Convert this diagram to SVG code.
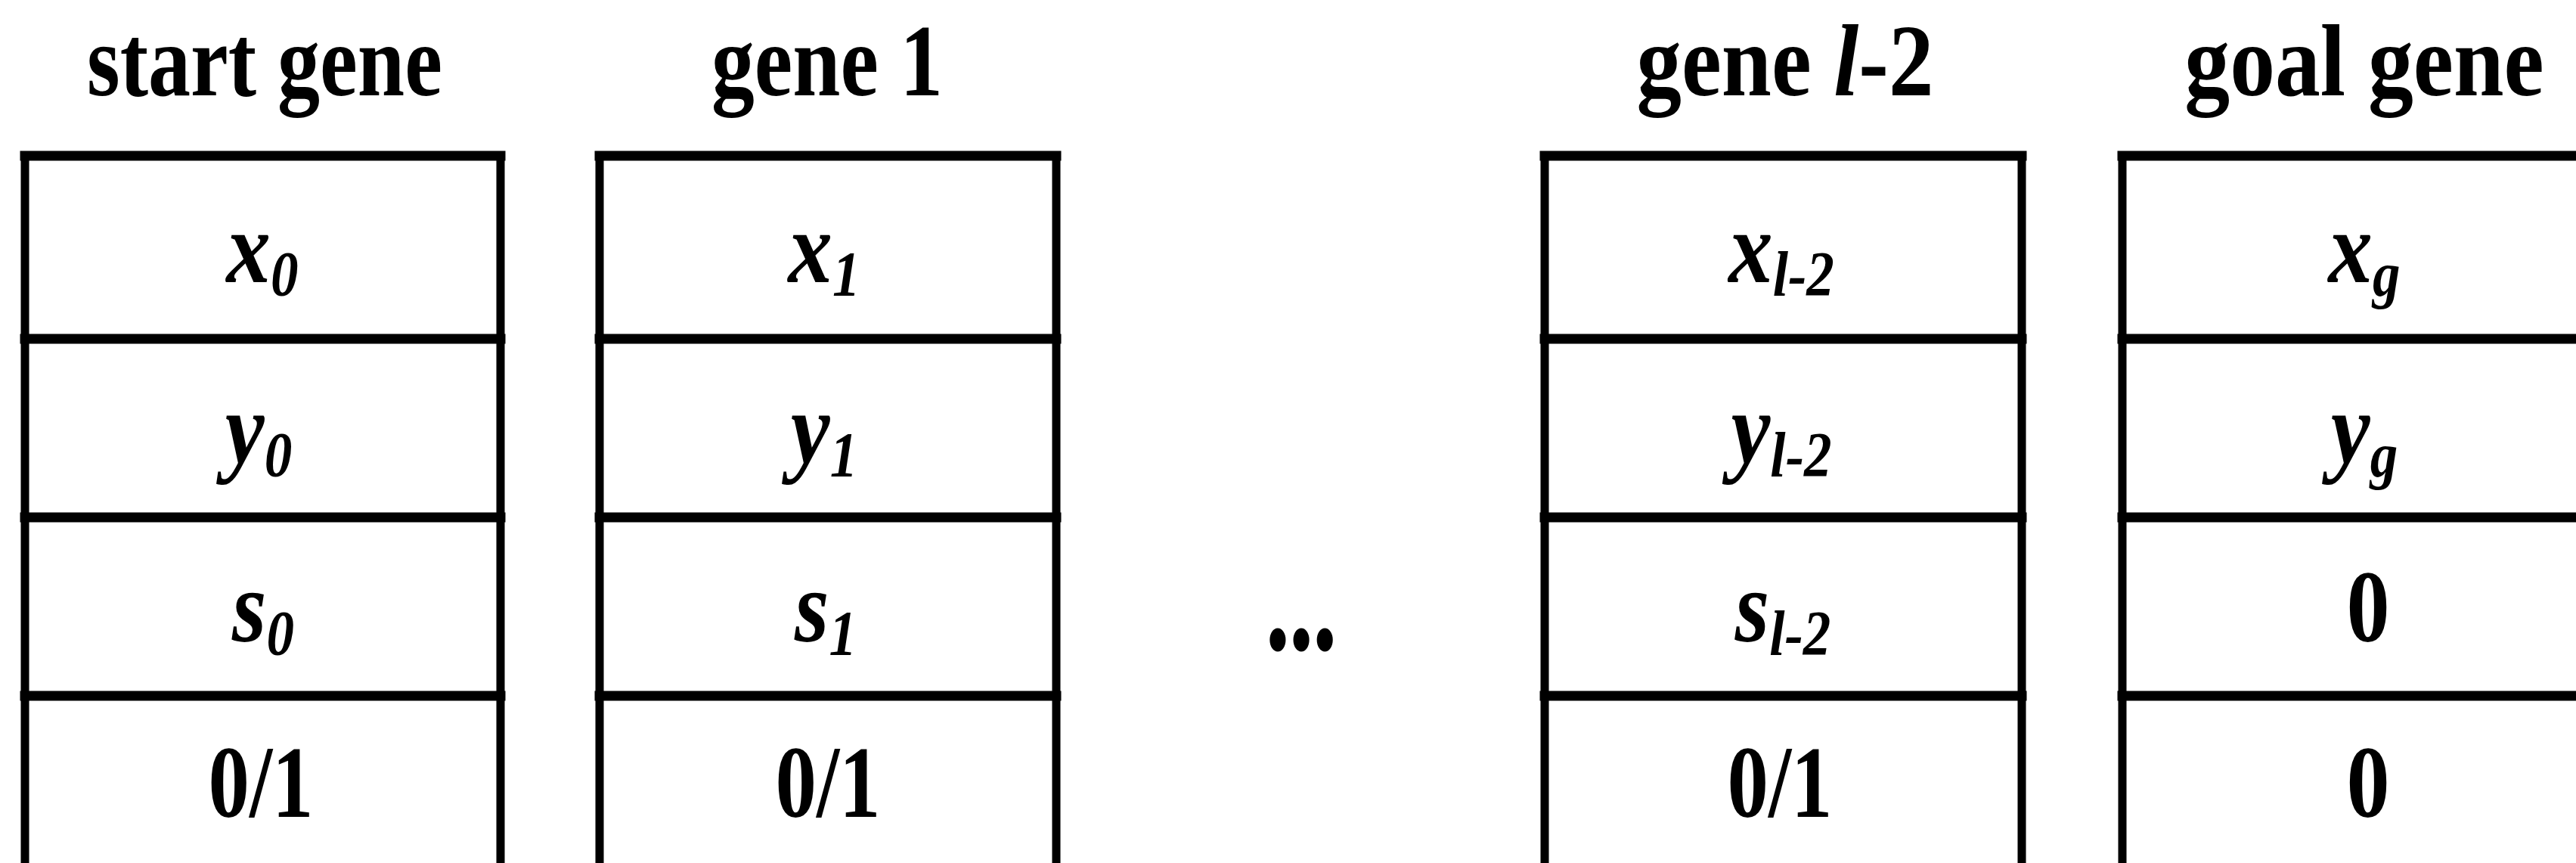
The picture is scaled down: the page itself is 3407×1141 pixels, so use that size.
<svg xmlns="http://www.w3.org/2000/svg" width="3407" height="1141" viewBox="0 0 3407 1141">
  <style>
    text { font-family: "Liberation Serif", "Times New Roman", serif; font-weight: bold; font-size: 136px; fill: #000; text-anchor: middle; }
    .it { font-style: italic; }
    .sub { font-size: 85px; font-style: italic; }
    .frame line { stroke: #000; stroke-linecap: square; }
    .frame .h { stroke-width: 13; }
    .frame .v { stroke-width: 11; }
  </style>

  <!-- chromosome cells; the 0/1 row runs past the bottom edge -->
  <g id="start-gene">
    <text transform="translate(350 126) scale(0.824 1)">start gene</text>
    <g class="frame">
      <line class="v" x1="33" y1="206" x2="33" y2="1160"/>
      <line class="v" x1="662" y1="206" x2="662" y2="1160"/>
      <line class="h" x1="33" y1="206" x2="662" y2="206"/>
      <line class="h" x1="33" y1="448" x2="662" y2="448"/>
      <line class="h" x1="33" y1="684" x2="662" y2="684"/>
      <line class="h" x1="33" y1="920" x2="662" y2="920"/>
    </g>
    <text class="it" transform="translate(347 373) scale(0.86 1)">x<tspan class="sub" dy="18">0</tspan></text>
    <text class="it" transform="translate(342 612) scale(0.86 1)">y<tspan class="sub" dy="18">0</tspan></text>
    <text class="it" transform="translate(348 848) scale(0.86 1)">s<tspan class="sub" dy="18">0</tspan></text>
    <text transform="translate(345 1080) scale(0.8 1)">0/1</text>
  </g>

  <g id="gene-1">
    <text transform="translate(1094 126) scale(0.835 1)">gene 1</text>
    <g class="frame">
      <line class="v" x1="793" y1="206" x2="793" y2="1160"/>
      <line class="v" x1="1397" y1="206" x2="1397" y2="1160"/>
      <line class="h" x1="793" y1="206" x2="1397" y2="206"/>
      <line class="h" x1="793" y1="448" x2="1397" y2="448"/>
      <line class="h" x1="793" y1="684" x2="1397" y2="684"/>
      <line class="h" x1="793" y1="920" x2="1397" y2="920"/>
    </g>
    <text class="it" transform="translate(1090 373) scale(0.86 1)">x<tspan class="sub" dy="18">1</tspan></text>
    <text class="it" transform="translate(1090 612) scale(0.86 1)">y<tspan class="sub" dy="18">1</tspan></text>
    <text class="it" transform="translate(1092 848) scale(0.86 1)">s<tspan class="sub" dy="18">1</tspan></text>
    <text transform="translate(1095 1080) scale(0.8 1)">0/1</text>
  </g>

  <g id="ellipsis">
    <text transform="translate(1721 855) scale(0.68 1)" font-size="180" stroke="#000" stroke-width="9">…</text>
  </g>

  <g id="gene-l-2">
    <text transform="translate(2361 126) scale(0.874 1)">gene <tspan class="it">l</tspan>-2</text>
    <g class="frame">
      <line class="v" x1="2043" y1="206" x2="2043" y2="1160"/>
      <line class="v" x1="2674" y1="206" x2="2674" y2="1160"/>
      <line class="h" x1="2043" y1="206" x2="2674" y2="206"/>
      <line class="h" x1="2043" y1="448" x2="2674" y2="448"/>
      <line class="h" x1="2043" y1="684" x2="2674" y2="684"/>
      <line class="h" x1="2043" y1="920" x2="2674" y2="920"/>
    </g>
    <text class="it" transform="translate(2356 373) scale(0.86 1)">x<tspan class="sub" dy="18">l-2</tspan></text>
    <text class="it" transform="translate(2356 612) scale(0.86 1)">y<tspan class="sub" dy="18">l-2</tspan></text>
    <text class="it" transform="translate(2358 848) scale(0.86 1)">s<tspan class="sub" dy="18">l-2</tspan></text>
    <text transform="translate(2354 1080) scale(0.8 1)">0/1</text>
  </g>

  <g id="goal-gene">
    <text transform="translate(3127 126) scale(0.88 1)">goal gene</text>
    <g class="frame">
      <line class="v" x1="2807" y1="206" x2="2807" y2="1160"/>
      <line class="v" x1="3447" y1="206" x2="3447" y2="1160"/>
      <line class="h" x1="2807" y1="206" x2="3447" y2="206"/>
      <line class="h" x1="2807" y1="448" x2="3447" y2="448"/>
      <line class="h" x1="2807" y1="684" x2="3447" y2="684"/>
      <line class="h" x1="2807" y1="920" x2="3447" y2="920"/>
    </g>
    <text class="it" transform="translate(3127 373) scale(0.86 1)">x<tspan class="sub" dy="18">g</tspan></text>
    <text class="it" transform="translate(3127 612) scale(0.86 1)">y<tspan class="sub" dy="18">g</tspan></text>
    <text transform="translate(3132 848) scale(0.84 1)">0</text>
    <text transform="translate(3132 1080) scale(0.84 1)">0</text>
  </g>

  <g id="connectors"/>
</svg>
